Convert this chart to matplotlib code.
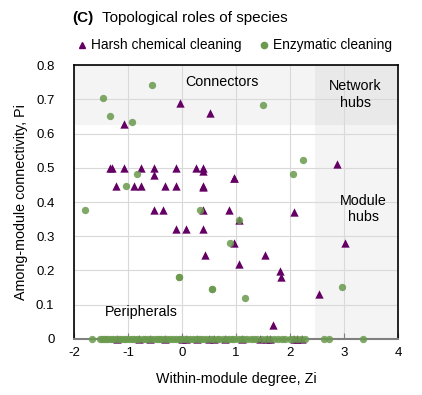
import matplotlib
matplotlib.use("Agg")
import matplotlib.pyplot as plt
from matplotlib.lines import Line2D

plt.rcParams['font.family'] = ['Liberation Sans', 'DejaVu Sans']
plt.rcParams['axes.unicode_minus'] = False

# Harsh chemical cleaning (triangles)
harsh_zi = [-0.03, 0.52, -1.08,
            -1.33, -1.29, -1.07, -0.75, -0.51, -0.12, 0.26, 0.39, 0.38, -0.51,
            -1.22, -0.89, -0.75, -0.31, -0.12, 0.39, 0.38, 0.97, 0.96, 2.86,
            -0.51, -0.35, 0.39, 0.86, 1.05, 2.07,
            -0.12, 0.08, 0.39, 0.97, 3.01, 0.43, 1.53, 1.05, 1.82, 1.83, 2.54, 1.68,
            -0.79, -0.31, 0.07, 0.28, 0.49, 0.79, 1.44, 1.58, 1.63, 2.07, 2.13, 2.22,
            -1.2, -0.6, 0.0, 0.6, 1.1]
harsh_pi = [0.69, 0.66, 0.627,
            0.50, 0.50, 0.50, 0.50, 0.50, 0.50, 0.50, 0.50, 0.49, 0.48,
            0.447, 0.447, 0.447, 0.447, 0.447, 0.447, 0.445, 0.469, 0.469, 0.511,
            0.377, 0.377, 0.377, 0.377, 0.347, 0.37,
            0.32, 0.32, 0.32, 0.279, 0.279, 0.245, 0.245, 0.219, 0.198, 0.18, 0.13, 0.041,
            0, 0, 0, 0, 0, 0, 0, 0, 0, 0, 0, 0,
            0, 0, 0, 0, 0]

# Enzymatic cleaning (circles)
enz_zi = [-1.47, -1.33, -0.93, -0.55, -0.83, -1.04, 1.49, 2.23, 2.05,
          -1.79, 0.33, 1.06, 0.89, -0.05, -0.05, 0.55, 0.55, 1.16, 2.96,
          -1.66, -1.52, -1.48, -1.44, -1.40, -1.36, -1.31, -1.27, -1.22, -1.17,
          -1.12, -1.08, -1.03, -0.98, -0.93, -0.88, -0.84, -0.79, -0.73, -0.68,
          -0.62, -0.57, -0.52, -0.47, -0.42, -0.38, -0.33, -0.27, -0.22, -0.17,
          -0.11, -0.06, -0.01, 0.04, 0.09, 0.15, 0.20, 0.26, 0.31, 0.36, 0.41,
          0.47, 0.53, 0.58, 0.64, 0.69, 0.75, 0.81, 0.86, 0.92, 0.97, 1.03,
          1.09, 1.14, 1.21, 1.27, 1.33, 1.39, 1.47, 1.55, 1.62, 1.70, 1.77,
          1.84, 1.91, 1.99, 2.05, 2.13, 2.20, 2.27, 2.63, 2.72, 3.34]
enz_pi = [0.703, 0.652, 0.633, 0.742, 0.482, 0.447, 0.683, 0.522, 0.483,
          0.377, 0.377, 0.347, 0.279, 0.182, 0.182, 0.145, 0.145, 0.119, 0.151] + [0] * 73

xticks = [-2, -1, 0, 1, 2, 3, 4]
yticks = [0, 0.1, 0.2, 0.3, 0.4, 0.5, 0.6, 0.7, 0.8]
ytick_labels = ['0', '0.1', '0.2', '0.3', '0.4', '0.5', '0.6', '0.7', '0.8']

purple = '#640064'
green = '#6a9a4e'

fig = plt.figure(figsize=(4.22, 3.95), dpi=100)
ax = fig.add_axes([0.175, 0.142, 0.769, 0.693])
ax.set_xlim(-2, 4)
ax.set_ylim(0, 0.8)

# role regions
ax.axhspan(0.625, 0.8, color='black', alpha=0.045, lw=0, zorder=0)
ax.axvspan(2.45, 4, color='black', alpha=0.045, lw=0, zorder=0)

ax.set_xticks(xticks)
ax.set_yticks(yticks)
ax.set_yticklabels(ytick_labels)
ax.grid(True, color='#d9d9d9', lw=0.8, zorder=0.5)
ax.set_axisbelow(True)

ax.scatter(harsh_zi, harsh_pi, marker='^', s=36, color=purple, lw=0, zorder=3, clip_on=False)
ax.scatter(enz_zi, enz_pi, marker='o', s=28, color=green, alpha=0.85, lw=0, zorder=4, clip_on=False)

for sp in ['left', 'top', 'right']:
    ax.spines[sp].set_color('black')
    ax.spines[sp].set_linewidth(1.2)
ax.spines['bottom'].set_color('#7f7f7f')
ax.spines['bottom'].set_linewidth(1.5)
ax.tick_params(axis='x', direction='in', length=4, color='#7f7f7f', labelsize=9.5, pad=6)
ax.tick_params(axis='y', length=0, labelsize=9.5, pad=14)

ax.set_xlabel('Within-module degree, Zi', fontsize=10.3, labelpad=9)
ax.set_ylabel('Among-module connectivity, Pi', fontsize=10.3, labelpad=6)

ax.text(0.745, 0.752, 'Connectors', ha='center', va='center', fontsize=10.3)
ax.text(3.2, 0.715, 'Network\nhubs', ha='center', va='center', fontsize=10.3, linespacing=1.25)
ax.text(3.36, 0.38, 'Module\nhubs', ha='center', va='center', fontsize=10.3, linespacing=1.25)
ax.text(-0.75, 0.08, 'Peripherals', ha='center', va='center', fontsize=10.3)

fig.text(0.172, 0.955, '(C)', fontsize=11, fontweight='bold', va='center', ha='left')
fig.text(0.242, 0.955, 'Topological roles of species', fontsize=11, va='center', ha='left')

handles = [Line2D([], [], marker='^', ls='', color=purple, markersize=5),
           Line2D([], [], marker='o', ls='', color=green, markersize=4.5)]
fig.legend(handles, ['Harsh chemical cleaning', 'Enzymatic cleaning'],
           loc='center', bbox_to_anchor=(0.553, 0.885), ncol=2, frameon=False,
           fontsize=9.9, handletextpad=0.1, columnspacing=1.1, handlelength=1.1)

fig.savefig('out.png', dpi=100)
